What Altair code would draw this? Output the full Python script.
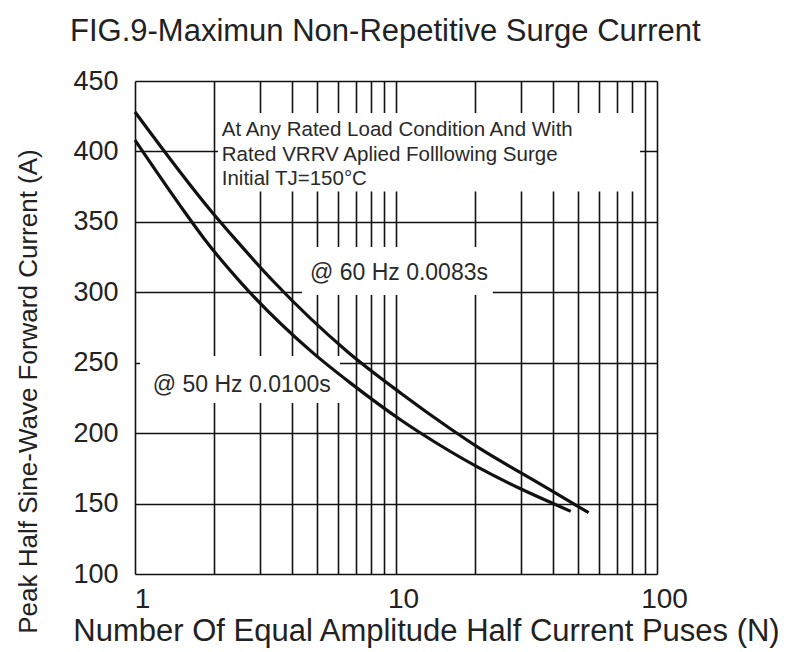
import altair as alt
import pandas as pd

# ---- data ----
n_60 = [1.0, 1.97, 2.44, 3.38, 6.5, 10.5, 15.9, 21.0, 30.0, 40.0, 54.7]
a_60 = [428, 357, 337, 308, 258, 228, 204, 189, 172, 158.5, 143.5]

n_50 = [1.0, 1.55, 1.85, 2.57, 4.77, 6.7, 10.5, 12.2, 21.0, 30.0, 40.0, 46.7]
a_50 = [408, 357, 337.5, 306, 257.5, 235.5, 209, 201, 175, 160.5, 150, 144.5]

x_ticks = [1, 2, 3, 4, 5, 6, 7, 8, 9, 10, 20, 30, 40, 50, 60, 70, 80, 90, 100]
y_ticks = [100, 150, 200, 250, 300, 350, 400, 450]

# annotation texts and their anchor values (N, A)
note_text = ["At Any Rated Load Condition And With",
             "Rated VRRV Aplied Folllowing Surge",
             "Initial TJ=150°C",
             "@ 60 Hz 0.0083s",
             "@ 50 Hz 0.0100s"]
note_n = [2.15, 2.15, 2.15, 4.68, 1.17]
note_a = [415.2, 397.5, 380.5, 313.7, 234.2]
note_size = [20.5, 20.5, 20.5, 23, 23]

# white label boxes behind the annotations (N range, A range)
box_n1 = [2.08, 4.36, 1.045]
box_n2 = [86.1, 23.5, 6.10]
box_a1 = [427.3, 332.2, 254.8]
box_a2 = [371.5, 298.1, 221.4]

FONT = "Liberation Sans"

curves = pd.concat([
    pd.DataFrame({"N": n_60, "A": a_60, "s": "60 Hz"}),
    pd.DataFrame({"N": n_50, "A": a_50, "s": "50 Hz"}),
])
notes = pd.DataFrame({"N": note_n, "A": note_a, "t": note_text, "fs": note_size})
boxes = pd.DataFrame({"n1": box_n1, "n2": box_n2, "a1": box_a1, "a2": box_a2})

xscale = alt.Scale(type="log", domain=[1, 100])
yscale = alt.Scale(domain=[100, 450], nice=False, zero=False)

xaxis = alt.Axis(
    values=x_ticks, grid=True, gridColor="#111", gridWidth=1.6, gridOpacity=1,
    ticks=False, domain=False,
    labelExpr="(datum.value == 1 || datum.value == 10 || datum.value == 100) ? datum.label : ''",
    labelFlush=False, labelOverlap=False, labelFont=FONT, labelFontSize=28,
    labelColor="#222", labelPadding=11, labelOffset=7,
    title="Number Of Equal Amplitude Half Current Puses (N)",
    titleFont=FONT, titleFontSize=31, titleFontWeight="normal", titleColor="#222",
    titleX=291, titleY=57, titleAlign="center", titleBaseline="middle",
)
yaxis = alt.Axis(
    values=y_ticks, grid=True, gridColor="#111", gridWidth=1.6, gridOpacity=1,
    ticks=False, domain=False, labelFont=FONT, labelFontSize=27, labelColor="#222",
    labelPadding=17,
    title="Peak Half Sine-Wave Forward Current (A)",
    titleFont=FONT, titleFontSize=26, titleFontWeight="normal", titleColor="#222",
    titleAngle=270, titleX=-107, titleY=310, titleAlign="center", titleBaseline="middle",
)

base_x = alt.X("N:Q", scale=xscale, axis=xaxis)
base_y = alt.Y("A:Q", scale=yscale, axis=yaxis)

rects = alt.Chart(boxes).mark_rect(fill="white").encode(
    x=alt.X("n1:Q", scale=xscale, axis=xaxis), x2="n2:Q",
    y=alt.Y("a1:Q", scale=yscale, axis=yaxis), y2="a2:Q",
)

texts = alt.Chart(notes).mark_text(
    align="left", baseline="middle", font=FONT, color="#2a2a2a"
).encode(
    x=base_x, y=base_y, text="t:N",
    size=alt.Size("fs:Q", scale=None, legend=None),
)

lines = alt.Chart(curves).mark_line(
    color="#111", strokeWidth=3.2, interpolate="monotone"
).encode(x=base_x, y=base_y, detail="s:N")

chart = alt.layer(rects, texts, lines).properties(
    width=522, height=493,
    title=alt.TitleParams(
        "FIG.9-Maximun Non-Repetitive Surge Current",
        anchor="start", frame="group", dx=-65, fontSize=31, font=FONT,
        fontWeight="normal", color="#222", offset=-5, baseline="alphabetic",
    ),
    autosize=alt.AutoSizeParams(type="none"),
    padding={"left": 127, "top": 73, "right": 130, "bottom": 76},
).configure_view(stroke="#111", strokeWidth=2.2).configure(background="white")

chart.save("out.html", embed_options={"renderer": "svg", "actions": False})
